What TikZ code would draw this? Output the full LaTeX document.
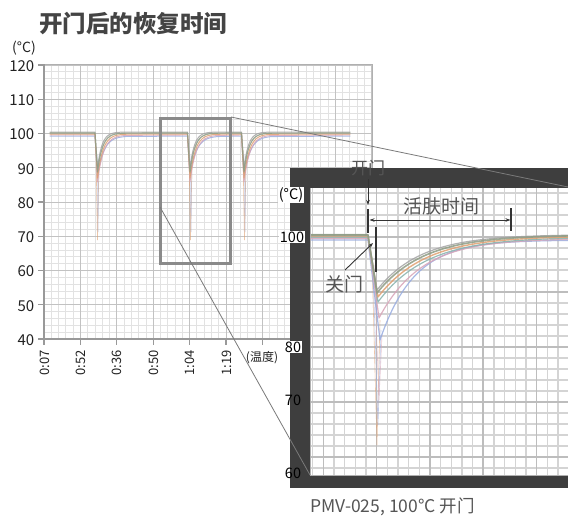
\documentclass[tikz,border=0pt]{standalone}
\usepackage{fontspec}
\setmainfont{Noto Sans CJK SC}
\usetikzlibrary{arrows.meta}
\definecolor{titlec}{HTML}{444444}
\definecolor{txt}{HTML}{222222}
\definecolor{anno}{HTML}{555555}
\definecolor{annoln}{HTML}{333333}
\definecolor{minorg}{HTML}{E2E2E2}
\definecolor{majorg}{HTML}{C2C2C2}
\definecolor{iminorg}{HTML}{D4D4D4}
\definecolor{imajorg}{HTML}{BDBDBD}
\definecolor{axisc}{HTML}{999999}
\definecolor{borderc}{HTML}{B0B0B0}
\definecolor{framec}{HTML}{3E3E3E}
\definecolor{zoomc}{HTML}{8A8A8A}
\definecolor{linkc}{HTML}{7A7A7A}
\definecolor{cvA}{HTML}{8E9C84}
\definecolor{cvB}{HTML}{E0A070}
\definecolor{cvC}{HTML}{98ACE0}
\definecolor{cvD}{HTML}{D8A4B8}
\definecolor{cvE}{HTML}{A4A4A4}
\definecolor{cvF}{HTML}{86B2AC}
\begin{document}
\begin{tikzpicture}[x=1pt,y=-1pt,
  lbl/.style={inner sep=0pt, text=txt, font=\fontsize{15}{15}\selectfont},
  tlbl/.style={inner sep=0pt, text=txt, font=\fontsize{13}{13}\selectfont},
  ilbl/.style={inner sep=1pt, text=black, font=\fontsize{14.5}{14.5}\selectfont},
  annotext/.style={inner sep=0pt, text=anno},
  annoline/.style={draw=annoln, line width=0.9pt},
  marker/.style={draw=annoln, line width=1.4pt},
  tip/.style={-{Stealth[length=5pt,width=3.5pt]}},
  curve/.style={line width=#1, opacity=0.85, line join=round, line cap=round},
  link/.style={draw=linkc, line width=0.8pt}
]
\useasboundingbox (0,0) rectangle (568,517);
\fill[white] (0,0) rectangle (568,517);

% ---------- title ----------
\node[anchor=west, inner sep=0pt, text=titlec, font=\fontsize{23.5}{23.5}\selectfont\bfseries] (title) at (39,24) {开门后的恢复时间};
\node[anchor=west, inner sep=0pt, text=txt, font=\fontsize{14}{14}\selectfont] (unitmain) at (12,48) {(°C)};

% ---------- main grid ----------
\begin{scope}
  \clip (44,64) rectangle (372,339);
  \foreach \i in {0,...,45} \draw[minorg, line width=0.8pt] ({44+\i*7.28},64) -- ({44+\i*7.28},339);
  \foreach \j in {0,...,40} \draw[minorg, line width=0.8pt] (44,{65+\j*6.85}) -- (372,{65+\j*6.85});
  \foreach \i in {0,...,9} \draw[majorg, line width=1pt] ({44+\i*36.4},64) -- ({44+\i*36.4},339);
  \foreach \j in {0,...,8} \draw[majorg, line width=1pt] (44,{65+\j*34.25}) -- (372,{65+\j*34.25});
  % thin spikes
  \foreach \d in {96,189,243} {
    \draw[cvB, line width=0.7pt, opacity=0.6] (\d,150) -- ({\d+1.5},240) -- ({\d+3},160);
    \draw[cvC, line width=0.5pt, opacity=0.5] ({\d+1},155) -- ({\d+2},232) -- ({\d+3},165);
  }
  % main curves
  \foreach \c/\o/\m/\t/\w in {cvE/-1/168/4.5/1pt, cvC/3/176/6.5/1pt, cvD/2/182/6/0.9pt, cvB/1/178/5.5/1pt, cvA/0/172/5/1.2pt} {
    \draw[\c, curve=\w]
      (50,{133+\o}) -- (95,{133+\o}) -- (97.5,\m)
      -- plot[domain=97.5:126, samples=30] (\x,{133+\o+(\m-133-\o)*exp(-(\x-97.5)/\t)})
      -- (187.5,{133+\o}) -- (190,\m)
      -- plot[domain=190:218, samples=30] (\x,{133+\o+(\m-133-\o)*exp(-(\x-190)/\t)})
      -- (241.5,{133+\o}) -- (244,\m)
      -- plot[domain=244:272, samples=30] (\x,{133+\o+(\m-133-\o)*exp(-(\x-244)/\t)})
      -- (350,{133+\o});
  }
\end{scope}
\draw[borderc, line width=1pt] (44,64) -- (372,64) -- (372,339);
\draw[axisc, line width=1.5pt] (44,64) -- (44,339) -- (372,339);
\foreach \j in {0,...,8} \draw[axisc, line width=1.2pt] (38,{65+\j*34.25}) -- (44,{65+\j*34.25});
\foreach \i in {0,...,9} \draw[axisc, line width=1.2pt] ({44+\i*36.4},339) -- ({44+\i*36.4},345);

% axis labels
\foreach \v [count=\j from 0] in {120,110,...,40}
  \node[lbl, anchor=east] (ym\v) at (34.5,{66+\j*34.25}) {\v};
\foreach \t [count=\i from 0] in {0:07,0:52,0:36,0:50,1:04,1:19}
  \node[tlbl, rotate=90, anchor=east] (xt\i) at ({44.5+\i*36.4},350) {\t};
\node[inner sep=0pt, text=txt, font=\fontsize{12}{12}\selectfont] (xunit) at (262,358) {(温度)};

% ---------- zoom rectangle ----------
\draw[zoomc, line width=3pt] (160,118) rectangle (230,263);
\coordinate (zTR) at (231,117);
\coordinate (zL) at (160,207);

% ---------- inset ----------
\fill[framec] (290,168) rectangle (575,488);
\fill[white] (310,188) rectangle (575,475);
\begin{scope}
  \clip (310,188) rectangle (575,475);
  \foreach \k in {0,...,24} \draw[iminorg, line width=1.3pt] ({312.7+\k*10.667},188) -- ({312.7+\k*10.667},475);
  \foreach \k in {0,...,25} \draw[iminorg, line width=1.3pt] (310,{193+\k*11}) -- (575,{193+\k*11});
  \foreach \k in {0,...,4} \draw[imajorg, line width=1.6pt] ({323.3+\k*53.33},188) -- ({323.3+\k*53.33},475);
  \foreach \y in {237,292,347,402,457} \draw[imajorg, line width=1.6pt] (310,\y) -- (575,\y);
  % thin spikes
  \draw[cvB, line width=0.6pt, opacity=0.6] (372,260) -- (377,445) -- (380,320);
  \draw[cvC, line width=0.6pt, opacity=0.6] (373,270) -- (378,425) -- (381,330);
  \draw[cvD, line width=0.6pt, opacity=0.6] (374,265) -- (379,400) -- (382,335);
  % curves
  \foreach \c/\f/\s/\m/\t/\w in {cvC/240/380/340/34/1.2pt, cvD/238.5/379/318/42/1.2pt, cvF/237/378/302/48/1.2pt, cvB/236/378/297/47/1.4pt, cvE/234.5/377/290/44/1.2pt, cvA/235/377/293/46/1.6pt} {
    \draw[\c, curve=\w] (310,\f) -- (368,\f) -- (\s,\m)
      -- plot[domain=\s:575, samples=70] (\x,{\f+(\m-\f)*exp(-(\x-\s)/\t)});
  }
\end{scope}
\draw[borderc, line width=0.8pt] (310,188) -- (310,475) -- (575,475);

% inset labels
\node[ilbl, fill=white] (iunit) at (291,195) {(°C)};
\node[ilbl, fill=white] (i100) at (292,237) {100};
\node[ilbl, fill=white] (i80) at (293,347) {80};
\node[ilbl] (i70) at (293,400) {70};
\node[ilbl] (i60) at (293,473) {60};

% ---------- annotations ----------
\node[annotext, font=\fontsize{17}{17}\selectfont] (kai) at (368,168) {开门};
\coordinate (kaiA) at (368,179);
\coordinate (kaiB) at (368,205);
\draw[annoline, tip] (kaiA) -- (kaiB);
\coordinate (openT) at (368,209);
\coordinate (openB) at (368,233);
\draw[marker] (openT) -- (openB);
\node[annotext, font=\fontsize{19}{19}\selectfont] (huo) at (441,206) {活肤时间};
\coordinate (dimL) at (369.5,220);
\coordinate (dimR) at (510.5,220);
\draw[annoline, {Stealth[length=5pt,width=3.5pt]}-{Stealth[length=5pt,width=3.5pt]}] (dimL) -- (dimR);
\coordinate (endT) at (511,208);
\coordinate (endB) at (511,231);
\draw[marker] (endT) -- (endB);
\coordinate (closeT) at (376,227);
\coordinate (closeB) at (376,272);
\draw[marker] (closeT) -- (closeB);
\node[annotext, font=\fontsize{19}{19}\selectfont] (guan) at (344,284) {关门};
\coordinate (guanA) at (345,270);
\coordinate (guanB) at (373,243);
\draw[annoline, tip] (guanA) -- (guanB);

% ---------- links ----------
\coordinate (iTR) at (568,187);
\coordinate (iBL) at (310,475);
\draw[link] (zTR) -- (iTR);
\draw[link] (zL) -- (iBL);

% ---------- caption ----------
\node[anchor=west, inner sep=0pt, text=anno, font=\fontsize{17.5}{17.5}\selectfont] (caption) at (310,507) {PMV-025, 100°C 开门};
\end{tikzpicture}
\end{document}
